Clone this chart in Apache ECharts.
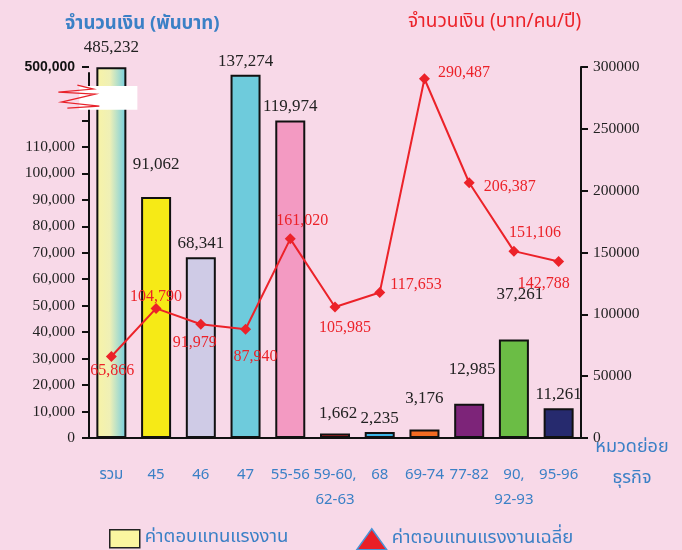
<!DOCTYPE html>
<html><head><meta charset="utf-8">
<script src="https://cdn.jsdelivr.net/npm/echarts@6.0.0/dist/echarts.min.js"></script>
<style>html,body{margin:0;padding:0;background:#f8d9e8}#c{width:682px;height:550px}</style>
</head><body><div id="c"></div>
<script>
// ---- data ----
const categories = ['รวม', '45', '46', '47', '55-56', '59-60,\n62-63', '68', '69-74', '77-82', '90,\n92-93', '95-96'];
const totalPay = [485232, 91062, 68341, 137274, 119974, 1662, 2235, 3176, 12985, 37261, 11261];      // พันบาท
const avgPay = [65866, 104790, 91979, 87940, 161020, 105985, 117653, 290487, 206387, 151106, 142788]; // บาท/คน/ปี
const leftLabelValues = [0, 10000, 20000, 30000, 40000, 50000, 60000, 70000, 80000, 90000, 100000, 110000, 500000];
const leftTickValues = [0, 10000, 20000, 30000, 40000, 50000, 60000, 70000, 80000, 90000, 100000, 110000, 120000, 130000, 500000];
const rightMax = 300000, rightStep = 50000;
const barName = 'ค่าตอบแทนแรงงาน';
const lineName = 'ค่าตอบแทนแรงงานเฉลี่ย';

// ---- styles ----
const BLUE = '#3b80c6', RED = '#ec2229';
const THAI = "'Noto Sans Thai','Noto Sans Thai Looped','Noto Sans','DejaVu Sans',sans-serif";
const SERIF = "'Liberation Serif','Times New Roman',serif";
const barColors = [
  {type: 'linear', x: 0, y: 0, x2: 1, y2: 0, colorStops: [{offset: 0, color: '#f8f3a6'}, {offset: 0.45, color: '#eff0b6'}, {offset: 1, color: '#70cce0'}]},
  '#f6ea16', '#cfcbe6', '#6ecbdc', '#f39ac2', '#e8262a', '#3ab5e8', '#f26b22', '#7d2479', '#6bbd45', '#262a6e'
];
const barLabelOffset = [[0,-6],[0,-19],[0,0],[0,0],[0,0],[3,-7],[0,0],[0,-18],[3,-21],[6,-31],[0,0]];
const lineLabelLayout = [
  ['bottom',[1,-4]], ['top',[0,7]], ['bottom',[-6,0]], ['bottom',[10,9]], ['top',[12,0]],
  ['bottom',[10,2]], ['right',[0,-8]], ['right',[3,-6]], ['right',[4,4]], ['top',[21,0]], ['bottom',[-15,4]]
];
const fmt = v => Number(v).toLocaleString('en-US');

const chart = echarts.init(document.getElementById('c'));
chart.setOption({
  backgroundColor: '#f8d9e8',
  animation: false,
  title: [
    {text: 'จำนวนเงิน (พันบาท)', left: 60, top: 11, textStyle: {color: BLUE, fontFamily: THAI, fontSize: 18.5, fontWeight: 'bold'}},
    {text: 'จำนวนเงิน (บาท/คน/ปี)', left: 403, top: 9, textStyle: {color: RED, fontFamily: THAI, fontSize: 19, fontWeight: 'normal'}},
    {text: 'หมวดย่อย\nธุรกิจ', left: 627, top: 428, textAlign: 'center', textStyle: {color: BLUE, fontFamily: THAI, fontSize: 18, fontWeight: 'normal', lineHeight: 31, align: 'center'}}
  ],
  legend: [
    {left: 104, top: 524, itemWidth: 30, itemHeight: 18, itemGap: 10,
     textStyle: {color: BLUE, fontFamily: THAI, fontSize: 18.5},
     data: [{name: barName, icon: 'rect', itemStyle: {color: '#fbf6a0', borderColor: '#222', borderWidth: 1.5}}]},
    {left: 351, top: 523, itemWidth: 30, itemHeight: 21, itemGap: 10,
     textStyle: {color: BLUE, fontFamily: THAI, fontSize: 18.5},
     data: [{name: lineName, icon: 'triangle', itemStyle: {color: '#ea1f27', borderColor: '#4a93d6', borderWidth: 1.5}}]}
  ],
  grid: {left: 89, right: 101, top: 67, bottom: 112, containLabel: false},
  xAxis: {
    type: 'category', data: categories,
    axisLine: {lineStyle: {color: '#111', width: 2}},
    axisTick: {length: 7, lineStyle: {color: '#111', width: 2}},
    axisLabel: {color: BLUE, fontFamily: THAI, fontSize: 15, margin: 25, lineHeight: 25, interval: 0}
  },
  yAxis: [
    {
      type: 'value', min: 0, max: 500000, position: 'left',
      breaks: [{start: 138000, end: 500000, gap: 2200}],
      breakArea: {show: false},
      splitLine: {show: false},
      axisLine: {show: true, lineStyle: {color: '#111', width: 2}},
      axisTick: {show: true, length: 7, customValues: leftTickValues, lineStyle: {color: '#111', width: 2}},
      axisLabel: {
        customValues: leftLabelValues, color: '#222', fontFamily: SERIF, fontSize: 15.5, margin: 14,
        formatter: v => v >= 400000 ? '{b|' + fmt(v) + '}' : fmt(v),
        rich: {b: {fontFamily: "'Liberation Sans',Arial,sans-serif", fontWeight: 'bold', fontSize: 14, color: '#111'}}
      }
    },
    {
      type: 'value', min: 0, max: rightMax, interval: rightStep, position: 'right',
      splitLine: {show: false},
      axisLine: {show: true, lineStyle: {color: '#111', width: 2}},
      axisTick: {show: true, length: 7, lineStyle: {color: '#111', width: 2}},
      axisLabel: {color: '#222', fontFamily: SERIF, fontSize: 15.5, margin: 12, formatter: v => String(v)}
    }
  ],
  series: [
    {
      name: barName, type: 'bar', yAxisIndex: 0, barWidth: 30,
      itemStyle: {color: '#fbf6a0', borderColor: '#111', borderWidth: 2},
      data: totalPay.map((v, i) => ({
        value: v,
        itemStyle: {color: barColors[i]},
        label: {offset: barLabelOffset[i]}
      })),
      label: {show: true, position: 'top', distance: 5, color: '#222', fontFamily: SERIF, fontSize: 17, formatter: p => fmt(p.value)}
    },
    {
      name: lineName, type: 'line', yAxisIndex: 1, z: 5,
      symbol: 'diamond', symbolSize: 11,
      lineStyle: {color: RED, width: 2},
      itemStyle: {color: RED},
      data: avgPay.map((v, i) => ({
        value: v,
        label: {position: lineLabelLayout[i][0], offset: lineLabelLayout[i][1]}
      })),
      label: {show: true, distance: 5, color: RED, fontFamily: SERIF, fontSize: 16, formatter: p => fmt(p.value)}
    }
  ]
});

// decorative axis-break mark (white patch + red squiggle) placed via the chart's own scales
function drawBreakMark() {
  const cx = chart.convertToPixel({xAxisIndex: 0}, categories[0]);
  const yTop = chart.convertToPixel({yAxisIndex: 0}, 133000);
  const yBot = chart.convertToPixel({yAxisIndex: 0}, 124000);
  const h = yBot - yTop;
  chart.setOption({
    graphic: [
      {type: 'rect', z: 100, shape: {x: cx - 32, y: yTop, width: 58, height: h}, style: {fill: '#ffffff'}},
      {type: 'polyline', z: 101, shape: {points: [
        [cx - 34, yTop - 1], [cx - 18, yTop + 3], [cx - 53, yTop + 6], [cx - 16, yTop + 8],
        [cx - 50, yTop + 16], [cx - 12, yTop + 20], [cx - 44, yTop + 22]
      ]}, style: {stroke: '#e8222a', lineWidth: 1.2, fill: null}}
    ]
  });
}
drawBreakMark();
</script>
</body></html>
